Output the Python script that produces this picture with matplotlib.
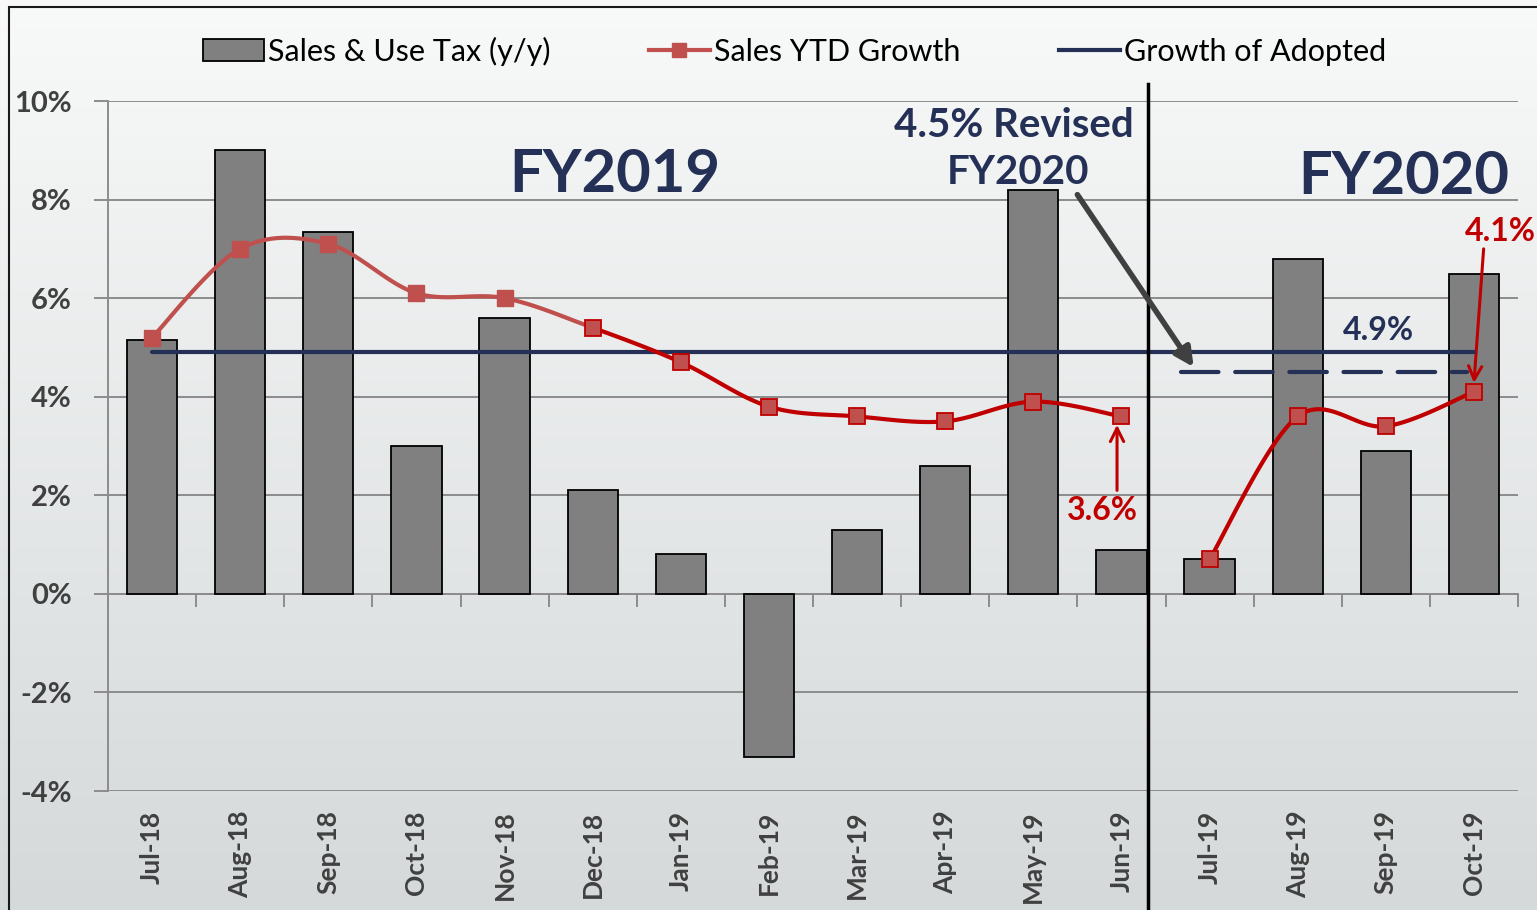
import numpy as np
import matplotlib.pyplot as plt
from matplotlib.lines import Line2D
from matplotlib.patches import Patch, Rectangle
from matplotlib.ticker import FuncFormatter

plt.rcParams["font.family"] = ["Lato", "DejaVu Sans"]

# data (percent)
months = ["Jul-18", "Aug-18", "Sep-18", "Oct-18", "Nov-18", "Dec-18",
          "Jan-19", "Feb-19", "Mar-19", "Apr-19", "May-19", "Jun-19",
          "Jul-19", "Aug-19", "Sep-19", "Oct-19"]
sales_use_tax = [5.15, 9.0, 7.35, 3.0, 5.6, 2.1, 0.8, -3.3, 1.3, 2.6, 8.2, 0.9,
                 0.7, 6.8, 2.9, 6.5]
ytd_fy2019 = [5.2, 7.0, 7.1, 6.1, 6.0, 5.4, 4.7, 3.8, 3.6, 3.5, 3.9, 3.6]
ytd_fy2020 = [0.7, 3.6, 3.4, 4.1]
adopted_growth = 4.9
revised_growth = 4.5
yticks = [-4, -2, 0, 2, 4, 6, 8, 10]

NAVY = "#243056"
RED_LIGHT = "#C0504D"
RED_DARK = "#C00000"
GREY_TXT = "#404040"
GRID = "#8C8C8C"


def excel_smooth(xs, ys, n=30):
    # bezier smoothing similar to Excel's "smoothed line"
    xs = np.asarray(xs, float)
    ys = np.asarray(ys, float)
    pts = np.column_stack([xs, ys])
    segs = []
    for i in range(len(pts) - 1):
        p0 = pts[i - 1] if i > 0 else pts[i]
        p1, p2 = pts[i], pts[i + 1]
        p3 = pts[i + 2] if i + 2 < len(pts) else pts[i + 1]
        c1 = p1 + (p2 - p0) / 6
        c2 = p2 - (p3 - p1) / 6
        t = np.linspace(0, 1, n)[:, None]
        seg = ((1 - t) ** 3 * p1 + 3 * (1 - t) ** 2 * t * c1
               + 3 * (1 - t) * t ** 2 * c2 + t ** 3 * p2)
        segs.append(seg)
    return segs


fig = plt.figure(figsize=(15.37, 9.10), dpi=100)

# background gradient
bg = fig.add_axes([0, 0, 1, 1], zorder=-5)
grad = np.linspace(0, 1, 256)[:, None]
top = np.array([0.973, 0.976, 0.976])
bot = np.array([0.835, 0.851, 0.855])
img = top[None, None, :] * (1 - grad[:, :, None]) + bot[None, None, :] * grad[:, :, None]
bg.imshow(img, aspect="auto", extent=[0, 1, 0, 1])
bg.axis("off")
fig.patches.append(Rectangle((9 / 1537, -0.02), 1.02, 1 - 7 / 910 + 0.02,
                             transform=fig.transFigure, fill=False,
                             edgecolor="#1a1a1a", linewidth=1.5))

ax = fig.add_axes([108 / 1537, 119 / 910, 1410 / 1537, 690 / 910])
ax.set_facecolor("none")
x = np.arange(len(months))

ax.bar(x, sales_use_tax, width=0.57, color="#808080", edgecolor="black",
       linewidth=1.3, zorder=3)

# adopted growth (solid) and revised (dashed)
ax.hlines(adopted_growth, x[0], x[-1], color=NAVY, linewidth=3, zorder=4,
          capstyle="round")
ax.hlines(revised_growth, x[12] - 0.32, x[-1] - 0.08, color=NAVY, linewidth=3,
          linestyles=(0, (9, 4)), zorder=4, capstyle="round")

# YTD growth lines
segs19 = excel_smooth(x[:12], ytd_fy2019)
for i, s in enumerate(segs19):
    ax.plot(s[:, 0], s[:, 1], color=RED_LIGHT if i < 5 else RED_DARK,
            linewidth=3, zorder=5, solid_capstyle="round")
for s in excel_smooth(x[12:], ytd_fy2020):
    ax.plot(s[:, 0], s[:, 1], color=RED_DARK, linewidth=3, zorder=5,
            solid_capstyle="round")
ax.plot(x[:5], ytd_fy2019[:5], "s", ms=12, color=RED_LIGHT, zorder=6)
ax.plot(x[5:12], ytd_fy2019[5:], "s", ms=12, markerfacecolor=RED_LIGHT,
        markeredgecolor=RED_DARK, markeredgewidth=1.3, zorder=6)
ax.plot(x[12:], ytd_fy2020, "s", ms=12, markerfacecolor=RED_LIGHT,
        markeredgecolor=RED_DARK, markeredgewidth=1.3, zorder=6)

# axes styling
ax.set_xlim(-0.5, len(months) - 0.5)
ax.set_ylim(yticks[0], yticks[-1])
ax.set_yticks(yticks)
ax.yaxis.set_major_formatter(FuncFormatter(lambda v, p: f"{v:.0f}%"))
ax.grid(axis="y", color=GRID, linewidth=1.4, zorder=0)
for side in ["top", "right", "bottom"]:
    ax.spines[side].set_visible(False)
ax.spines["left"].set_color(GRID)
ax.spines["left"].set_linewidth(1.4)
ax.tick_params(axis="y", length=10, width=1.4, color=GRID, labelsize=21,
               labelcolor=GREY_TXT, pad=16)
ax.set_xticks(x)
ax.set_xticklabels(months, rotation=90)
ax.tick_params(axis="x", length=0, labelsize=19, labelcolor=GREY_TXT, pad=14)
for lab in ax.get_xticklabels() + ax.get_yticklabels():
    lab.set_fontweight("bold")

# category axis crossing at zero, with tick marks between categories
zero_frac = (0 - yticks[0]) / (yticks[-1] - yticks[0])
sec = ax.secondary_xaxis(zero_frac)
sec.set_xticks(np.arange(len(months) + 1) - 0.5)
sec.set_xticklabels([])
sec.tick_params(axis="x", direction="out", length=9, width=1.4, color=GRID)
sec.spines["bottom"].set_color(GRID)
sec.spines["bottom"].set_linewidth(1.4)

# fiscal year divider
ax.plot([11.3, 11.3], [-0.18, 1.025], color="black", linewidth=2.5,
        transform=ax.get_xaxis_transform(), clip_on=False, zorder=7)

# annotations
ax.text(5.25, 8.5, "FY2019", ha="center", va="center", fontsize=43,
        fontweight="bold", color=NAVY)
ax.text(14.2, 8.45, "FY2020", ha="center", va="center", fontsize=43,
        fontweight="bold", color=NAVY)
ax.text(9.78, 9.5, "4.5% Revised", ha="center", va="center", fontsize=29,
        fontweight="bold", color=NAVY, zorder=8)
ax.text(9.83, 8.55, "FY2020", ha="center", va="center", fontsize=29,
        fontweight="bold", color=NAVY, zorder=8)
ax.annotate("", xy=(11.82, 4.6), xytext=(10.5, 8.1),
            arrowprops=dict(arrowstyle="-|>", color=GREY_TXT, lw=4,
                            mutation_scale=28, shrinkA=0, shrinkB=0), zorder=8)
ax.text(13.92, 5.35, f"{adopted_growth:.1f}%", ha="center", va="center",
        fontsize=23, fontweight="bold", color=NAVY)

# callouts for the latest YTD values
ax.text(10.78, 1.7, f"{ytd_fy2019[-1]:.1f}%", ha="center", va="center",
        fontsize=23, fontweight="bold", color=RED_DARK)
ax.annotate("", xy=(10.95, ytd_fy2019[-1] - 0.17), xytext=(10.95, 2.1),
            arrowprops=dict(arrowstyle="->", color=RED_DARK, lw=2.2,
                            mutation_scale=24, shrinkA=0, shrinkB=0))
ax.text(15.3, 7.35, f"{ytd_fy2020[-1]:.1f}%", ha="center", va="center",
        fontsize=23, fontweight="bold", color=RED_DARK, clip_on=False)
ax.annotate("", xy=(15.0, ytd_fy2020[-1] + 0.18), xytext=(15.11, 7.0),
            annotation_clip=False,
            arrowprops=dict(arrowstyle="->", color=RED_DARK, lw=2.2,
                            mutation_scale=24, shrinkA=0, shrinkB=0))

# legend
handles = [
    Patch(facecolor="#808080", edgecolor="black", linewidth=1.3),
    Line2D([], [], color=RED_LIGHT, linewidth=3, marker="s", markersize=10),
    Line2D([], [], color=NAVY, linewidth=3),
]
labels = ["Sales & Use Tax (y/y)", "Sales YTD Growth", "Growth of Adopted"]
fig.legend(handles, labels, loc="center", bbox_to_anchor=(0.517, 1 - 51 / 910),
           ncol=3, frameon=False, fontsize=22, handlelength=2.0,
           handletextpad=0.15, columnspacing=3.2)

fig.savefig("out.png", dpi=100)
